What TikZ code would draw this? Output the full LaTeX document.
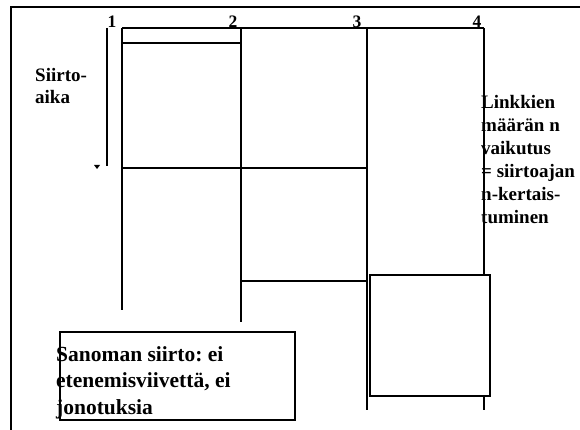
\documentclass[tikz,border=0pt]{standalone}
\usepackage{fontspec}
\setmainfont{Liberation Serif}
\frenchspacing
\usetikzlibrary{
    positioning,
    calc
}
\tikzset{
    slotline/.style = {line width=1.4pt},
    frameline/.style = {line width=1.1pt},
    numlabel/.style = {font=\bfseries\fontsize{17.5}{20}\selectfont, inner sep=0pt, anchor=base},
    notetext/.style = {font=\bfseries\fontsize{19}{22.8}\selectfont, inner sep=0pt, align=left, anchor=base west},
}

\begin{document}
\begin{tikzpicture}[x=1pt, y=-1pt]
\useasboundingbox (0,0) rectangle (580,430);

% outer frame
\draw[frameline] (11,430) -- (11,7) -- (580,7);

% time axis
\draw[slotline] (107,28) -- (107,166);
\fill (94,165) -- (100,165) -- (97,169) -- cycle;

% links
\draw[slotline] (122,28) -- (484,28);
\draw[slotline] (122,28) -- (122,310);
\draw[slotline] (241,28) -- (241,322);
\draw[slotline] (367,28) -- (367,410);
\draw[slotline] (484,28) -- (484,410);

% message slots
\draw[slotline] (122,43) -- (241,43);
\draw[slotline] (122,168) -- (367,168);
\draw[slotline] (241,281) -- (367,281);
\filldraw[slotline, fill=white] (370,275) rectangle (490,396);

% base anchor of a multi-line node = last line
\node[numlabel] (n1) at (112,28) {1};
\node[numlabel] (n2) at (233,28) {2};
\node[numlabel] (n3) at (357,28) {3};
\node[numlabel] (n4) at (477,28) {4};

\node[notetext] (aika) at (35,104) {Siirto-\\aika};
\node[notetext] (linkit) at (481,223) {Linkkien\\määrän n\\vaikutus\\= siirtoajan\\n-kertais-\\tuminen};

% note box
\draw[frameline] (60,332) rectangle (295,420);
\node[notetext, font=\bfseries\fontsize{21.5}{26.5}\selectfont] (sanoma) at (56,414)
    {Sanoman siirto: ei\\etenemisviivettä, ei\\jonotuksia};
\end{tikzpicture}
\end{document}
